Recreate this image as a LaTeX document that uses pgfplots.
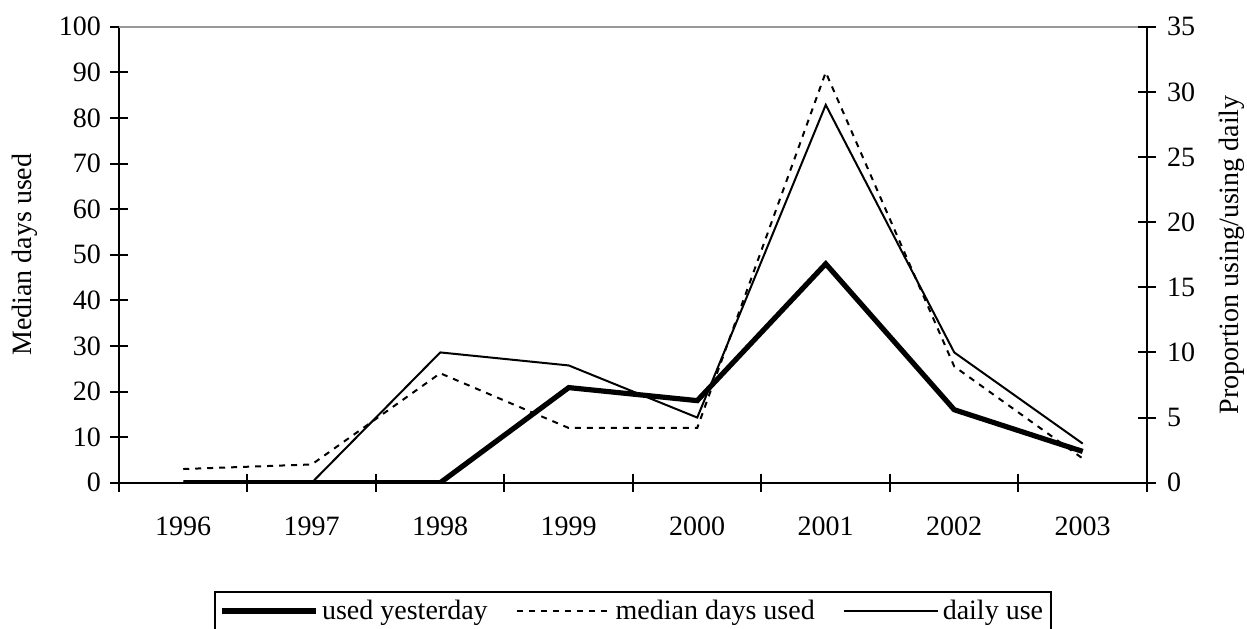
\documentclass[border=0pt]{standalone}
\usepackage{pgfplots}
\pgfplotsset{compat=1.18}
\usepackage{fontspec}
\setmainfont{Liberation Serif}
\begin{document}
\begin{tikzpicture}[font=\fontsize{14}{16}\selectfont]
\pgfplotsset{
  every axis/.append style={scale only axis, width=514pt, height=228pt,
    xmin=0.5, xmax=8.5,
    /pgf/number format/assume math mode=true,
    tick label style={font=\fontsize{14}{16}\selectfont},
    label style={font=\fontsize{14}{16}\selectfont}},
}
\begin{axis}[
  axis x line*=bottom, axis y line*=left,
  tick align=center, major tick length=9pt,
  every tick/.style={black, line width=1pt},
  x axis line style={-, line width=1.2pt},
  y axis line style={-, line width=1.2pt},
  ymin=0, ymax=100, ytick={0,10,...,100},
  xtick={0.5,1.5,...,8.5},
  x tick label as interval,
  xticklabels={1996,1997,1998,1999,2000,2001,2002,2003},
  xticklabel style={yshift=-9pt},
  yticklabel style={xshift=-1pt},
  ylabel={Median days used},
  ylabel style={at={(axis description cs:-0.0914,0.5)}, anchor=center},
]
\addplot[black, line width=1pt, dash pattern=on 3pt off 3pt] coordinates {(1,3)(2,4)(3,24)(4,12)(5,12)(6,90)(7,25.5)(8,5.3)};
\coordinate (bl) at (rel axis cs:0,0);
\coordinate (tl) at (rel axis cs:0,1);
\coordinate (tr) at (rel axis cs:1,1);
\end{axis}
\draw[gray!80, line width=1pt] (tl) -- (tr);
\begin{axis}[
  axis y line*=right, axis x line=none,
  tick align=center, major tick length=9pt,
  every tick/.style={black, line width=1pt},
  y axis line style={-, line width=1.2pt},
  ymin=0, ymax=35, ytick={0,5,...,35},
  yticklabel style={xshift=2pt},
  ylabel={Proportion using/using daily},
  ylabel style={at={(axis description cs:1.0827,0.5)}, anchor=center},
  legend columns=3,
  legend style={at={(0.5,-0.237)}, anchor=north, draw=black, line width=1pt,
    font=\fontsize{14}{16}\selectfont, inner sep=2pt,
    /tikz/every even column/.append style={column sep=12pt}},
  legend image code/.code={\draw[#1] (0pt,0pt) -- (47pt,0pt);},
]
\addplot[black, line width=2.6pt] coordinates {(1,0)(2,0)(3,0)(4,7.3)(5,6.3)(6,16.8)(7,5.6)(8,2.4)};
\addlegendentry{used yesterday}
\addlegendimage{black, line width=1pt, dash pattern=on 3pt off 3pt}
\addlegendentry{median days used}
\addplot[black, line width=1pt] coordinates {(1,0)(2,0)(3,10)(4,9)(5,5)(6,29)(7,10)(8,3)};
\addlegendentry{daily use}
\end{axis}
\pgfresetboundingbox
\path ([shift={(-59.5pt,-72.65pt)}]bl) rectangle ([shift={(564pt,241.35pt)}]bl);
\end{tikzpicture}
\end{document}
